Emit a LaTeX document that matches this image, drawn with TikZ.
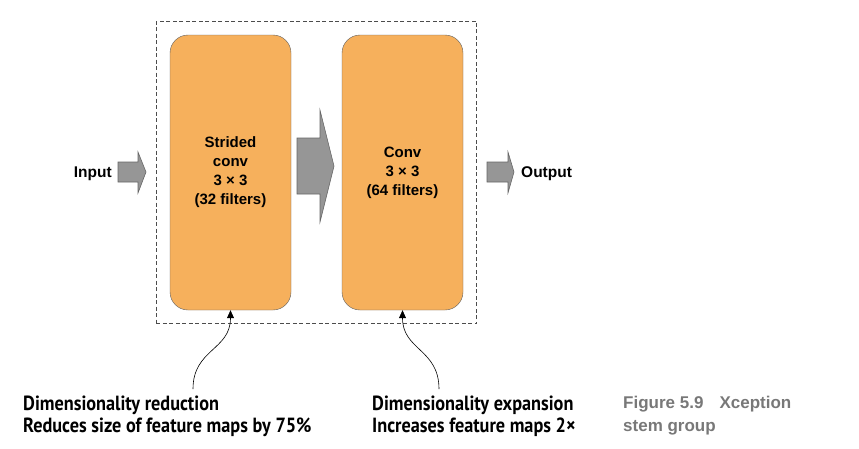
\documentclass[tikz,border=0pt]{standalone}
\usepackage{fontspec}
\setmainfont{Liberation Sans}
\newfontfamily\notefont[FakeStretch=0.89]{PT Sans}
\usetikzlibrary{arrows.meta,fit}
\definecolor{convorange}{RGB}{246,176,92}
\definecolor{boxline}{RGB}{95,95,95}
\definecolor{arrowgray}{RGB}{150,150,150}
\definecolor{capgray}{RGB}{120,120,120}

\begin{document}
\begin{tikzpicture}[x=1pt, y=-1pt,
    layer/.style={draw=boxline, fill=convorange, rounded corners=18pt,
        minimum width=121pt, minimum height=275pt, align=center,
        font=\fontsize{15}{19}\selectfont\bfseries},
    blockarrow/.style={draw=black!60, fill=arrowgray, line width=0.6pt},
    note/.style={-{Triangle[length=8pt,width=7pt]}, line width=0.6pt},
    notetext/.style={anchor=base west, align=left, inner sep=0pt,
        font=\notefont\fontsize{20.5}{21.5}\selectfont\bfseries}]
    \useasboundingbox (0,0) rectangle (859,448);
    % the two conv layers
    \node[layer] (stride) at (230.5,172.5) {Strided\\conv\\3 × 3\\(32 filters)};
    \node[layer] (conv) at (402.5,172.5) {Conv\\3 × 3\\(64 filters)};
    \node[draw=black!70, dash pattern=on 4pt off 2.5pt, line width=0.6pt,
        inner sep=13.5pt, fit=(stride)(conv)] (stem) {};
    % block arrows
    \filldraw[blockarrow] (118,162)--(138,162)--(138,152)--(146,172)
        --(138,193)--(138,182)--(118,182)--cycle;
    \filldraw[blockarrow] (297,138)--(320,138)--(320,110)--(334,166)
        --(320,222)--(320,194)--(297,194)--cycle;
    \filldraw[blockarrow] (487,162)--(508,162)--(508,152)--(514,172)
        --(508,193)--(508,182)--(487,182)--cycle;
    \node[anchor=base east, inner sep=0pt, font=\fontsize{15.5}{18}\selectfont\bfseries]
        (input) at (112,177) {Input};
    \node[anchor=base west, inner sep=0pt, font=\fontsize{15.5}{18}\selectfont\bfseries]
        (output) at (521,177.5) {Output};
    % notes below (base = last line)
    \node[notetext] (reduce) at (23,432)
        {Dimensionality reduction\\Reduces size of feature maps by 75\%};
    \node[notetext] (expand) at (372,432)
        {Dimensionality expansion\\Increases feature maps 2×};
    \coordinate (r0) at (193,389);
    \coordinate (e0) at (439,389);
    \draw[note] (r0) .. controls +(0,-40) and +(0,40) .. (stride.south);
    \draw[note] (e0) .. controls +(0,-40) and +(0,40) .. (conv.south);
    \node[anchor=base west, align=left, inner sep=0pt, text=capgray,
        font=\fontsize{17}{23}\selectfont\bfseries] (caption) at (623,431)
        {Figure 5.9\hspace{16pt}Xception\\stem group};
\end{tikzpicture}
\end{document}
